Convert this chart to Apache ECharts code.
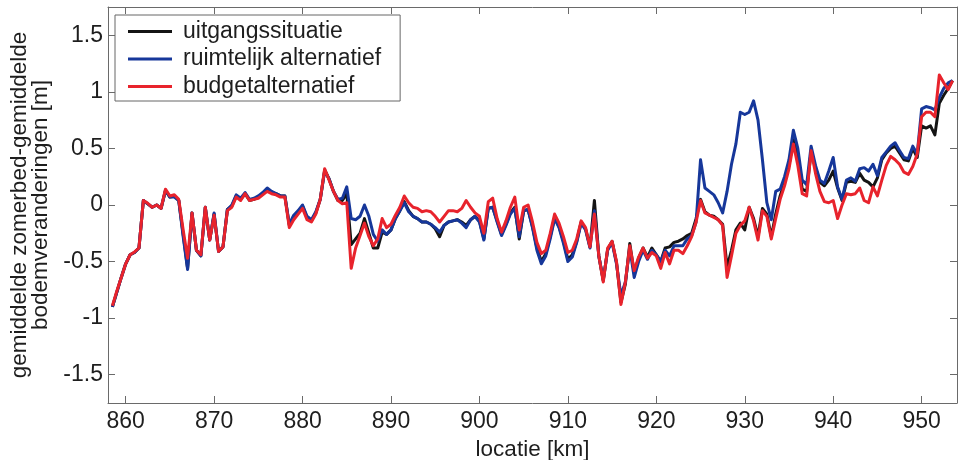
<!DOCTYPE html>
<html>
<head>
<meta charset="utf-8">
<script src="https://cdn.jsdelivr.net/npm/echarts@6/dist/echarts.min.js"></script>
<style>
  html, body { margin: 0; padding: 0; background: #fff; }
  #chart { width: 960px; height: 460px; }
</style>
</head>
<body>
<div id="chart"></div>
<script>
// River location in km, sampled every 0.5 km
const km = [
  858.5, 859, 859.5, 860, 860.5, 861, 861.5, 862, 862.5, 863,
  863.5, 864, 864.5, 865, 865.5, 866, 866.5, 867, 867.5, 868,
  868.5, 869, 869.5, 870, 870.5, 871, 871.5, 872, 872.5, 873,
  873.5, 874, 874.5, 875, 875.5, 876, 876.5, 877, 877.5, 878,
  878.5, 879, 879.5, 880, 880.5, 881, 881.5, 882, 882.5, 883,
  883.5, 884, 884.5, 885, 885.5, 886, 886.5, 887, 887.5, 888,
  888.5, 889, 889.5, 890, 890.5, 891, 891.5, 892, 892.5, 893,
  893.5, 894, 894.5, 895, 895.5, 896, 896.5, 897, 897.5, 898,
  898.5, 899, 899.5, 900, 900.5, 901, 901.5, 902, 902.5, 903,
  903.5, 904, 904.5, 905, 905.5, 906, 906.5, 907, 907.5, 908,
  908.5, 909, 909.5, 910, 910.5, 911, 911.5, 912, 912.5, 913,
  913.5, 914, 914.5, 915, 915.5, 916, 916.5, 917, 917.5, 918,
  918.5, 919, 919.5, 920, 920.5, 921, 921.5, 922, 922.5, 923,
  923.5, 924, 924.5, 925, 925.5, 926, 926.5, 927, 927.5, 928,
  928.5, 929, 929.5, 930, 930.5, 931, 931.5, 932, 932.5, 933,
  933.5, 934, 934.5, 935, 935.5, 936, 936.5, 937, 937.5, 938,
  938.5, 939, 939.5, 940, 940.5, 941, 941.5, 942, 942.5, 943,
  943.5, 944, 944.5, 945, 945.5, 946, 946.5, 947, 947.5, 948,
  948.5, 949, 949.5, 950, 950.5, 951, 951.5, 952, 952.5, 953,
  953.5
];

// Mean bed level change [m] per scenario
const uitgangssituatie = [
  -0.90, -0.77, -0.64, -0.52, -0.44, -0.42, -0.38, 0.04, 0.01, -0.02,
  0.00, -0.03, 0.13, 0.07, 0.08, 0.04, -0.26, -0.56, -0.07, -0.40,
  -0.45, -0.02, -0.31, -0.08, -0.41, -0.37, -0.04, -0.01, 0.08, 0.05,
  0.10, 0.04, 0.05, 0.07, 0.10, 0.14, 0.11, 0.10, 0.08, 0.08,
  -0.18, -0.10, -0.06, -0.01, -0.11, -0.14, -0.07, 0.05, 0.31, 0.23,
  0.12, 0.04, 0.04, 0.10, -0.35, -0.30, -0.25, -0.12, -0.25, -0.38,
  -0.38, -0.24, -0.26, -0.22, -0.12, -0.05, 0.03, -0.05, -0.10, -0.12,
  -0.15, -0.15, -0.17, -0.21, -0.28, -0.18, -0.15, -0.14, -0.13, -0.15,
  -0.18, -0.13, -0.10, -0.14, -0.30, -0.03, -0.02, -0.14, -0.26, -0.17,
  -0.07, -0.02, -0.30, -0.05, -0.04, -0.19, -0.38, -0.50, -0.43, -0.28,
  -0.11, -0.19, -0.32, -0.48, -0.44, -0.32, -0.15, -0.21, -0.37, 0.04,
  -0.45, -0.67, -0.39, -0.32, -0.51, -0.86, -0.70, -0.34, -0.60, -0.47,
  -0.38, -0.46, -0.38, -0.44, -0.50, -0.38, -0.37, -0.33, -0.32, -0.30,
  -0.27, -0.25, -0.12, 0.05, -0.06, -0.09, -0.10, -0.13, -0.17, -0.55,
  -0.40, -0.22, -0.16, -0.22, -0.02, -0.12, -0.28, -0.03, -0.08, -0.28,
  -0.08, 0.08, 0.20, 0.35, 0.58, 0.42, 0.14, 0.12, 0.47, 0.33,
  0.20, 0.17, 0.22, 0.30, 0.15, 0.04, 0.20, 0.21, 0.20, 0.28,
  0.22, 0.20, 0.16, 0.24, 0.40, 0.46, 0.50, 0.52, 0.46, 0.40,
  0.39, 0.50, 0.42, 0.70, 0.68, 0.70, 0.62, 0.90, 0.97, 1.03,
  1.10
];

const ruimtelijkAlternatief = [
  -0.90, -0.77, -0.64, -0.52, -0.44, -0.42, -0.38, 0.04, 0.01, -0.02,
  0.00, -0.03, 0.13, 0.07, 0.07, 0.04, -0.28, -0.57, -0.07, -0.40,
  -0.45, -0.02, -0.31, -0.07, -0.41, -0.37, -0.04, 0.00, 0.09, 0.06,
  0.11, 0.05, 0.06, 0.08, 0.11, 0.15, 0.12, 0.10, 0.08, 0.08,
  -0.17, -0.09, -0.05, 0.00, -0.10, -0.13, -0.06, 0.05, 0.30, 0.23,
  0.12, 0.05, 0.06, 0.16, -0.12, -0.13, -0.10, 0.00, -0.10, -0.26,
  -0.32, -0.22, -0.26, -0.22, -0.12, -0.05, 0.02, -0.06, -0.10, -0.12,
  -0.15, -0.15, -0.17, -0.20, -0.24, -0.18, -0.15, -0.14, -0.13, -0.16,
  -0.20, -0.13, -0.10, -0.15, -0.31, -0.03, -0.02, -0.15, -0.27, -0.18,
  -0.08, -0.03, -0.28, -0.05, -0.04, -0.20, -0.40, -0.52, -0.45, -0.30,
  -0.12, -0.20, -0.34, -0.50, -0.46, -0.33, -0.16, -0.22, -0.38, -0.05,
  -0.45, -0.66, -0.40, -0.33, -0.52, -0.80, -0.68, -0.38, -0.64, -0.50,
  -0.40, -0.48, -0.40, -0.44, -0.50, -0.40, -0.45, -0.36, -0.36, -0.36,
  -0.30, -0.27, -0.15, 0.40, 0.15, 0.12, 0.09, 0.02, -0.07, 0.12,
  0.36, 0.54, 0.82, 0.80, 0.82, 0.92, 0.75, 0.40, 0.02, -0.13,
  0.12, 0.14, 0.25, 0.40, 0.66, 0.50, 0.22, 0.18, 0.52, 0.35,
  0.22, 0.19, 0.30, 0.42, 0.16, 0.05, 0.22, 0.24, 0.21, 0.32,
  0.33, 0.30, 0.36, 0.26, 0.42, 0.47, 0.52, 0.55, 0.48, 0.42,
  0.41, 0.52, 0.45, 0.85, 0.87, 0.86, 0.84, 0.95, 1.03, 1.08,
  1.10
];

const budgetalternatief = [
  -0.89, -0.76, -0.64, -0.52, -0.44, -0.415, -0.38, 0.04, 0.015, -0.02,
  0.00, -0.03, 0.14, 0.08, 0.09, 0.05, -0.22, -0.47, -0.07, -0.40,
  -0.44, -0.02, -0.31, -0.09, -0.41, -0.37, -0.05, -0.02, 0.07, 0.04,
  0.10, 0.04, 0.05, 0.06, 0.09, 0.12, 0.10, 0.09, 0.07, 0.07,
  -0.20, -0.13, -0.08, -0.03, -0.13, -0.15, -0.08, 0.05, 0.32, 0.22,
  0.12, 0.04, 0.01, 0.02, -0.56, -0.38, -0.27, -0.16, -0.28, -0.36,
  -0.30, -0.12, -0.20, -0.17, -0.09, -0.02, 0.08, 0.02, -0.02, -0.03,
  -0.06, -0.05, -0.06, -0.10, -0.15, -0.10, -0.05, -0.05, -0.06, -0.03,
  0.04, -0.02, -0.07, -0.10, -0.25, 0.03, 0.06, -0.12, -0.24, -0.14,
  -0.02, 0.07, -0.22, -0.02, 0.00, -0.15, -0.33, -0.43, -0.40, -0.25,
  -0.08, -0.16, -0.28, -0.42, -0.40, -0.30, -0.14, -0.20, -0.37, -0.08,
  -0.45, -0.68, -0.38, -0.32, -0.50, -0.88, -0.68, -0.36, -0.58, -0.46,
  -0.38, -0.47, -0.42, -0.45, -0.56, -0.42, -0.52, -0.40, -0.40, -0.43,
  -0.36, -0.28, -0.15, 0.04, -0.07, -0.09, -0.11, -0.13, -0.18, -0.64,
  -0.45, -0.25, -0.18, -0.14, -0.02, -0.14, -0.31, -0.05, -0.10, -0.30,
  -0.12, 0.05, 0.17, 0.32, 0.54, 0.35, 0.10, 0.08, 0.48, 0.28,
  0.12, 0.03, 0.02, 0.04, -0.12, 0.00, 0.10, 0.09, 0.10, 0.15,
  0.04, 0.02, 0.16, 0.08, 0.22, 0.35, 0.43, 0.40, 0.36, 0.29,
  0.27, 0.34, 0.45, 0.78, 0.82, 0.82, 0.78, 1.15, 1.08, 1.02,
  1.10
];

const xTicks = [860, 870, 880, 890, 900, 910, 920, 930, 940, 950];
const yTicks = [-1.5, -1, -0.5, 0, 0.5, 1, 1.5];

const seriesNames = ['uitgangssituatie', 'ruimtelijk alternatief', 'budgetalternatief'];
const seriesValues = [uitgangssituatie, ruimtelijkAlternatief, budgetalternatief];
const seriesColors = ['#141414', '#16379a', '#e8232c'];

const FONT = '"Liberation Sans", Arial, sans-serif';
const AXIS_COLOR = '#6a6a6a';
const TEXT_COLOR = '#1e1e1e';

// Every axis draws one side of the closed box frame, so none may snap to zero
function frameAxis(extra) {
  return Object.assign({
    axisLine: { show: true, onZero: false, lineStyle: { color: AXIS_COLOR, width: 1 } },
    splitLine: { show: false },
    axisLabel: { show: false },
    axisPointer: { show: false }
  }, extra);
}

function ticks(values) {
  return { show: true, inside: true, length: 7, customValues: values, lineStyle: { color: AXIS_COLOR } };
}

const chart = echarts.init(document.getElementById('chart'), null, { renderer: 'canvas' });

chart.setOption({
  animation: false,
  backgroundColor: '#fff',
  textStyle: { fontFamily: FONT },
  grid: { left: 108, right: 3, top: 7, bottom: 57, containLabel: false, outerBoundsMode: 'none' },
  legend: {
    left: 115,
    top: 15,
    orient: 'vertical',
    data: seriesNames,
    // plain line sample, no point marker
    icon: 'path://M0 0H44V3H0Z',
    itemWidth: 44,
    itemHeight: 3,
    itemGap: 4.5,
    padding: [5, 19, 3, 13],
    borderColor: '#666',
    borderWidth: 1,
    backgroundColor: '#fff',
    selectedMode: false,
    textStyle: {
      fontFamily: FONT,
      fontSize: 23,
      color: TEXT_COLOR,
      lineHeight: 22,
      padding: [0, 0, 0, 6]
    }
  },
  xAxis: [
    frameAxis({
      type: 'value',
      position: 'bottom',
      min: 858,
      max: 954,
      name: 'locatie [km]',
      nameLocation: 'middle',
      nameGap: 28,
      nameTextStyle: { fontFamily: FONT, fontSize: 22.5, color: TEXT_COLOR },
      axisTick: ticks(xTicks),
      axisLabel: { show: true, customValues: xTicks, margin: 7, fontFamily: FONT, fontSize: 23, color: TEXT_COLOR }
    }),
    frameAxis({
      type: 'value',
      position: 'top',
      min: 858,
      max: 954,
      axisTick: ticks(xTicks)
    })
  ],
  yAxis: [
    frameAxis({
      type: 'value',
      position: 'left',
      min: -1.75,
      max: 1.75,
      name: 'gemiddelde zomerbed-gemiddelde\nbodemveranderingen [m]',
      nameLocation: 'middle',
      nameRotate: 90,
      nameGap: 55,
      nameTextStyle: { fontFamily: FONT, fontSize: 22.5, color: TEXT_COLOR, lineHeight: 21, align: 'center' },
      axisTick: ticks(yTicks),
      axisLabel: { show: true, customValues: yTicks, margin: 5, fontFamily: FONT, fontSize: 23, color: TEXT_COLOR }
    }),
    frameAxis({
      type: 'value',
      position: 'right',
      min: -1.75,
      max: 1.75,
      axisTick: ticks(yTicks)
    })
  ],
  series: seriesNames.map((name, s) => ({
    name: name,
    type: 'line',
    xAxisIndex: 0,
    yAxisIndex: 0,
    symbol: 'none',
    smooth: false,
    z: 2 + s,
    color: seriesColors[s],
    lineStyle: { color: seriesColors[s], width: 3, join: 'round' },
    data: km.map((x, i) => [x, seriesValues[s][i]])
  }))
});
</script>
</body>
</html>
